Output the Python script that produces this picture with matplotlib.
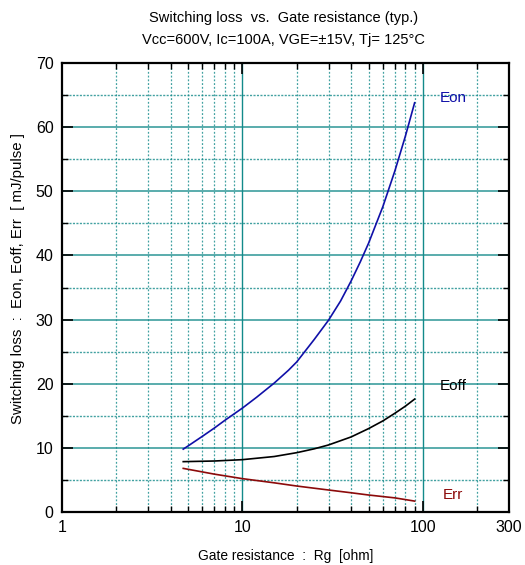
#!/usr/bin/env python3
"""Switching loss vs gate resistance chart."""
import matplotlib
import matplotlib.pyplot as plt
from matplotlib.ticker import FixedLocator, NullFormatter

matplotlib.use("Agg")
plt.rcParams["font.family"] = ["Liberation Sans", "DejaVu Sans"]

# values
rg_eon = [4.7, 5, 6, 7, 8, 10, 12, 15, 18, 20, 25, 30, 35, 40, 45, 50, 60, 70, 80, 90]
eon = [9.8, 10.3, 11.8, 13.1, 14.3, 16.2, 17.9, 20.1, 22.1, 23.4, 26.9, 29.9, 32.9,
       36.0, 39.0, 41.9, 47.6, 53.2, 58.6, 63.8]

rg_eoff = [4.7, 7, 10, 15, 20, 25, 30, 40, 50, 60, 70, 80, 90]
eoff = [7.85, 7.95, 8.16, 8.65, 9.25, 9.85, 10.45, 11.7, 13.0, 14.2, 15.4, 16.5, 17.6]

rg_err = [4.7, 7, 10, 15, 20, 30, 40, 50, 70, 90]
err = [6.8, 5.9, 5.2, 4.55, 4.05, 3.43, 3.0, 2.65, 2.2, 1.7]

x_ticks = [1, 10, 100, 300]
x_minor = [2, 3, 4, 5, 6, 7, 8, 9, 20, 30, 40, 50, 60, 70, 80, 90, 200]
y_ticks = list(range(0, 71, 10))
y_minor = list(range(5, 70, 10))

grid_c = "#138a8a"

fig = plt.figure(figsize=(5.25, 5.65), dpi=100)
ax = fig.add_axes([0.118, 0.0938, 0.8515, 0.7947])
ax.set_xscale("log")
ax.set_xlim(1, 300)
ax.set_ylim(0, 70)

ax.xaxis.set_major_locator(FixedLocator(x_ticks))
ax.xaxis.set_minor_locator(FixedLocator(x_minor))
ax.set_xticklabels([str(v) for v in x_ticks])
ax.xaxis.set_minor_formatter(NullFormatter())
ax.yaxis.set_major_locator(FixedLocator(y_ticks))
ax.yaxis.set_minor_locator(FixedLocator(y_minor))

for v in [10, 100]:
    ax.axvline(v, color=grid_c, lw=1.0, zorder=1)
for v in x_minor:
    ax.axvline(v, color=grid_c, lw=0.9, ls=(0, (1.5, 1.5)), alpha=0.8, zorder=1)
for v in y_ticks[1:-1]:
    ax.axhline(v, color=grid_c, lw=1.4, alpha=0.7, zorder=1)
for v in y_minor:
    ax.axhline(v, color=grid_c, lw=1.0, ls=(0, (1.5, 1.0)), alpha=0.8, zorder=1)

ax.plot(rg_eon, eon, color="#1010a8", lw=1.2, zorder=3)
ax.plot(rg_eoff, eoff, color="black", lw=1.2, zorder=3)
ax.plot(rg_err, err, color="#8c0a0a", lw=1.2, zorder=3)

ax.text(147, 64.5, "Eon", color="#1010a8", fontsize=11, ha="center", va="center")
ax.text(147, 19.6, "Eoff", color="black", fontsize=11, ha="center", va="center")
ax.text(147, 2.6, "Err", color="#8c0a0a", fontsize=11, ha="center", va="center")

ax.tick_params(which="both", direction="in", top=True, right=True, labelsize=11.5, pad=6)
ax.tick_params(which="major", length=8, width=1.2)
ax.tick_params(which="minor", length=4, width=1.0)
for s in ax.spines.values():
    s.set_linewidth(1.6)

ax.set_xlabel("Gate resistance  :  Rg  [ohm]", fontsize=9.9, labelpad=10)
ax.set_ylabel("Switching loss  :  Eon, Eoff, Err  [ mJ/pulse ]", fontsize=10.8)
ax.yaxis.set_label_coords(-0.083, 0.52)
fig.text(0.54, 0.968, "Switching loss  vs.  Gate resistance (typ.)", ha="center", va="center", fontsize=10.5)
fig.text(0.54, 0.929, "Vcc=600V, Ic=100A, VGE=±15V, Tj= 125°C", ha="center", va="center", fontsize=10.5)

fig.savefig("out.png", dpi=100)
plt.close(fig)
